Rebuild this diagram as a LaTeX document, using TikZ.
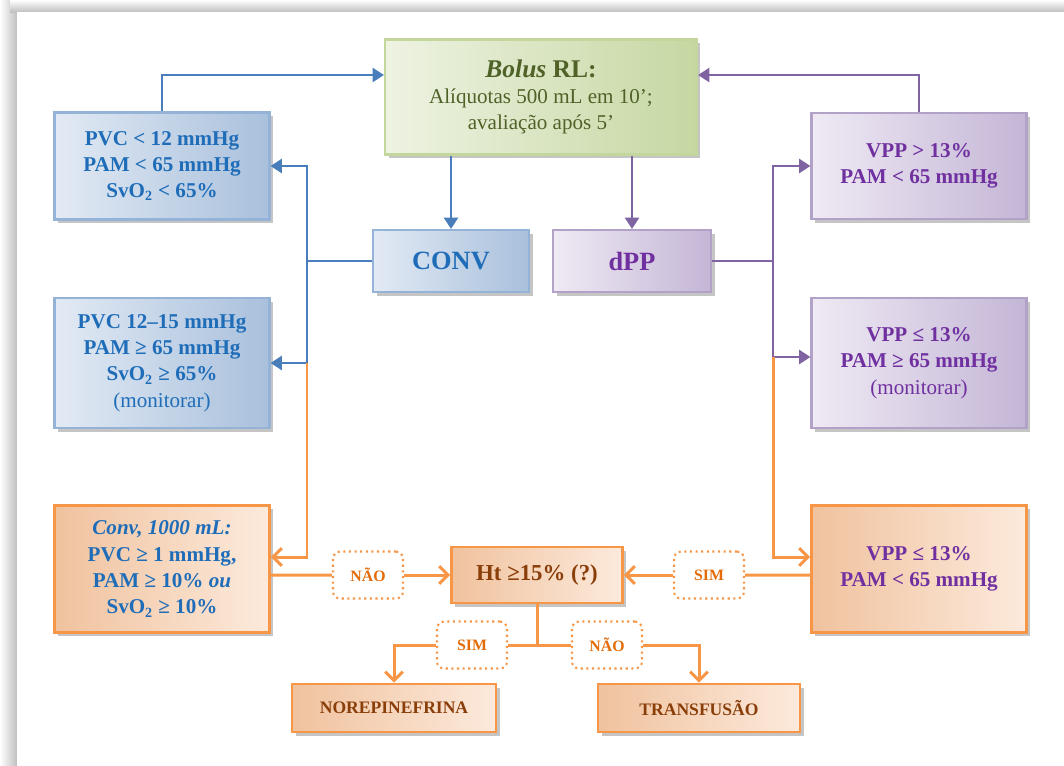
\documentclass[tikz,border=0pt]{standalone}
\usepackage{fontspec}
\setmainfont{Liberation Serif}
\usetikzlibrary{arrows.meta,shadows}

\definecolor{bluetxt}{HTML}{1F6DB8}
\definecolor{blueline}{HTML}{4A7EBB}
\definecolor{bluedraw}{HTML}{95B3D7}
\definecolor{bluefA}{HTML}{E2EAF4}
\definecolor{bluefB}{HTML}{A9C0DC}
\definecolor{purptxt}{HTML}{7030A0}
\definecolor{purpline}{HTML}{8064A2}
\definecolor{purpdraw}{HTML}{B3A2C7}
\definecolor{purpfA}{HTML}{EFEAF4}
\definecolor{purpfB}{HTML}{C4B6D6}
\definecolor{orline}{HTML}{F79646}
\definecolor{ortxt}{HTML}{E36C09}
\definecolor{orfA}{HTML}{F0C29E}
\definecolor{orfB}{HTML}{FCEADC}
\definecolor{browntxt}{HTML}{8A3F0A}
\definecolor{greentxt}{HTML}{4F6228}
\definecolor{greendraw}{HTML}{C3D69B}
\definecolor{greenfA}{HTML}{EEF3E2}
\definecolor{greenfB}{HTML}{C6D7A2}

\tikzset{
  box/.style={draw, line width=1.2pt, align=center, inner sep=2pt,
    font=\bfseries\fontsize{12}{15}\selectfont,
    drop shadow={shadow xshift=2pt, shadow yshift=-2pt, opacity=.45}},
  bluebox/.style={box, draw=bluedraw, left color=bluefA, right color=bluefB, text=bluetxt},
  purpbox/.style={box, draw=purpdraw, left color=purpfA, right color=purpfB, text=purptxt},
  orbox/.style={box, draw=orline, line width=1.6pt, left color=orfA, right color=orfB},
  answer/.style={draw=orline, dotted, line width=1.2pt, rounded corners=4pt, fill=white,
    text=ortxt, font=\bfseries\fontsize{9}{11}\selectfont,
    minimum width=1.4cm, minimum height=.94cm},
  bline/.style={draw=blueline, line width=1.5pt},
  pline/.style={draw=purpline, line width=1.5pt},
  oline/.style={draw=orline, line width=1.7pt},
  btip/.style={-{Triangle[length=6.5pt,width=8pt]}},
  otip/.style={-{Straight Barb[length=5pt,width=10pt,line width=1.7pt]}}
}

\begin{document}
\begin{tikzpicture}[x=0.02cm, y=-0.02cm]
    \useasboundingbox (0,0) rectangle (1064,765);
    % page frame
    \shade[left color=white, right color=black!25] (0,0) rectangle (17,765);
    \shade[top color=white, bottom color=black!25] (10,0) rectangle (1064,12);
    \fill[white] (17,12) rectangle (1064,765);

    % boxes
    \node[box, draw=greendraw, left color=greenfA, right color=greenfB, text=greentxt,
          minimum width=6.24cm, minimum height=2.3cm] (bolus) at (541,97)
        {{\fontsize{14.5}{18}\selectfont\textit{Bolus} RL:}\\
         \mdseries Alíquotas 500 mL em 10’;\\ \mdseries avaliação após 5’};

    \node[bluebox, minimum width=4.3cm, minimum height=2.14cm] (pvcA) at (162,166)
        {PVC < 12 mmHg\\ PAM < 65 mmHg\\ SvO\textsubscript{2} < 65\%};
    \node[bluebox, minimum width=4.3cm, minimum height=2.6cm] (pvcB) at (162,363)
        {PVC 12–15 mmHg\\ PAM ≥ 65 mmHg\\ SvO\textsubscript{2} ≥ 65\%\\ \mdseries (monitorar)};
    \node[orbox, text=bluetxt, minimum width=4.3cm, minimum height=2.54cm] (conv1000) at (162,569)
        {\textit{Conv, 1000 mL:}\\ PVC ≥ 1 mmHg,\\ PAM ≥ 10\% \textit{ou}\\ SvO\textsubscript{2} ≥ 10\%};

    \node[bluebox, font=\bfseries\fontsize{15}{18}\selectfont,
          minimum width=3.12cm, minimum height=1.24cm] (conv) at (451,261) {CONV};
    \node[purpbox, font=\bfseries\fontsize{15}{18}\selectfont,
          minimum width=3.16cm, minimum height=1.24cm] (dpp) at (632,261) {dPP};

    \node[purpbox, minimum width=4.3cm, minimum height=2.12cm] (vppA) at (919,166)
        {VPP > 13\%\\ PAM < 65 mmHg};
    \node[purpbox, minimum width=4.3cm, minimum height=2.6cm] (vppB) at (919,363)
        {VPP ≤ 13\%\\ PAM ≥ 65 mmHg\\ \mdseries (monitorar)};
    \node[orbox, text=purptxt, minimum width=4.3cm, minimum height=2.54cm] (vppC) at (919,569)
        {VPP ≤ 13\%\\ PAM < 65 mmHg};

    \node[orbox, text=browntxt, font=\bfseries\fontsize{13}{16}\selectfont,
          minimum width=3.42cm, minimum height=1.12cm] (ht) at (537,575) {Ht ≥15\% (?)};
    \node[orbox, text=browntxt, font=\bfseries\fontsize{10}{12}\selectfont,
          minimum width=4.08cm, minimum height=.96cm] (norep) at (394,708) {NOREPINEFRINA};
    \node[orbox, text=browntxt, font=\bfseries\fontsize{10}{12}\selectfont,
          minimum width=4.04cm, minimum height=.96cm] (transf) at (699,708) {TRANSFUSÃO};

    % answer labels
    \node[answer] (naoL) at (368,575) {NÃO};
    \node[answer] (simR) at (709,575) {SIM};
    \node[answer] (simD) at (472,645) {SIM};
    \node[answer] (naoD) at (607,645) {NÃO};

    \coordinate (ltrunk) at (307,261);
    \coordinate (rtrunk) at (773,261);
    \coordinate (hj) at (537,645);

    % blue side
    \draw[bline, btip] (pvcA.north) |- ([yshift=.44cm]bolus.west);
    \draw[bline, btip] (bolus.south -| conv.north) -- (conv.north);
    \draw[bline, btip] (conv.west) -- (ltrunk) |- (pvcA.east);
    \draw[bline, btip] (ltrunk) |- (pvcB.east);
    \draw[oline, otip] (ltrunk |- pvcB.east) |- ([yshift=.24cm]conv1000.east);

    % purple side
    \draw[pline, btip] (vppA.north) |- ([yshift=.44cm]bolus.east);
    \draw[pline, btip] (bolus.south -| dpp.north) -- (dpp.north);
    \draw[pline, btip] (dpp.east) -- (rtrunk) |- (vppA.west);
    \draw[pline, btip] (rtrunk) |- ([yshift=.12cm]vppB.west);
    \draw[oline, otip] ([yshift=.12cm]rtrunk |- vppB.west) |- ([yshift=.24cm]vppC.west);

    % Ht
    \draw[oline] ([yshift=-.12cm]conv1000.east) -- (naoL.west);
    \draw[oline, otip] (naoL.east) -- (ht.west);
    \draw[oline] ([yshift=-.12cm]vppC.west) -- (simR.east);
    \draw[oline, otip] (simR.west) -- (ht.east);
    \draw[oline] (ht.south) -- (hj);
    \draw[oline] (hj) -- (simD.east);
    \draw[oline, otip] (simD.west) -| (norep.north);
    \draw[oline] (hj) -- (naoD.west);
    \draw[oline, otip] (naoD.east) -| (transf.north);
\end{tikzpicture}
\end{document}
